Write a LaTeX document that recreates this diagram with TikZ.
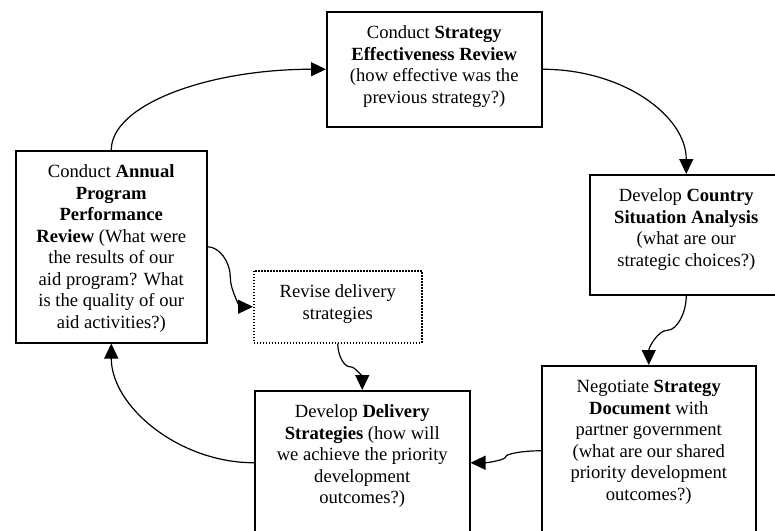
\documentclass[tikz,border=0pt]{standalone}
\usepackage{fontspec}
\setmainfont{Liberation Serif}
\usetikzlibrary{arrows.meta,calc}
\newcommand{\bxt}[3]{\parbox[t][#2][t]{#1}{\centering\rule{0pt}{27pt}#3}}
\begin{document}
\begin{tikzpicture}[x=1pt,y=1pt,
  box/.style={draw, line width=1.5pt, inner sep=0pt, anchor=north west,
    font=\fontsize{18.6pt}{21.5pt}\selectfont},
  dotbox/.style={box, dash pattern=on 1.5pt off 1.5pt},
  conn/.style={line width=1.2pt, -{Triangle[length=15pt,width=14pt]}}]
\useasboundingbox (0,0) rectangle (775,-530);
\fill[white] (0,0) rectangle (775,-530);
\clip (0,0) rectangle (775,-530);

\node[box] (b1) at (326,-11) {\bxt{215pt}{115pt}{Conduct \textbf{Strategy}\\\textbf{Effectiveness Review}\\(how effective was the\\previous strategy?)}};
\node[box] (b2) at (15,-150) {\bxt{191pt}{192pt}{Conduct \textbf{Annual}\\\textbf{Program}\\\textbf{Performance}\\\textbf{Review} (What were\\the results of our\\aid program? What\\is the quality of our\\aid activities?)}};
\node[box] (b3) at (589,-174) {\bxt{193pt}{120pt}{Develop \textbf{Country}\\\textbf{Situation Analysis}\\(what are our\\strategic choices?)}};
\node[box] (b4) at (541,-365) {\bxt{214pt}{170pt}{Negotiate \textbf{Strategy}\\\textbf{Document} with\\partner government\\(what are our shared\\priority development\\outcomes?)}};
\node[box] (b5) at (254,-390) {\bxt{215pt}{144pt}{Develop \textbf{Delivery}\\\textbf{Strategies} (how will\\we achieve the priority\\development\\outcomes?)}};
\node[dotbox] (b6) at (253,-270) {\bxt{168pt}{72pt}{Revise delivery\\strategies}};

\draw[conn] (b2.north) .. controls +(0,45) and +(-119,0) .. (b1.west);
\draw[conn] (b1.east) .. controls +(80,0) and +(0,58.5) .. (b3.north);
\draw[conn] (b3.south) .. controls +(0,-17.75) and +(9.35,0) .. ($(b3.south)!0.5!(b4.north)$)
  .. controls +(-9.35,0) and +(0,17.75) .. (b4.north);
\draw[conn] (b4.west) .. controls +(-18,0) and +(0,3) .. ($(b4.west)!0.5!(b5.east)$)
  .. controls +(0,-3) and +(18,0) .. (b5.east);
\draw[conn] (b5.west) .. controls +(-75,0) and +(0,-63) .. (b2.south);
\draw[conn] (b2.east) .. controls +(11.75,0) and +(0,15) .. ($(b2.east)!0.5!(b6.west)$)
  .. controls +(0,-15) and +(-11.75,0) .. (b6.west);
\draw[conn] (b6.south) .. controls +(0,-12) and +(-6.1,0) .. ($(b6.south)!0.5!(b5.north)$)
  .. controls +(6.1,0) and +(0,12) .. (b5.north);
\end{tikzpicture}
\end{document}
